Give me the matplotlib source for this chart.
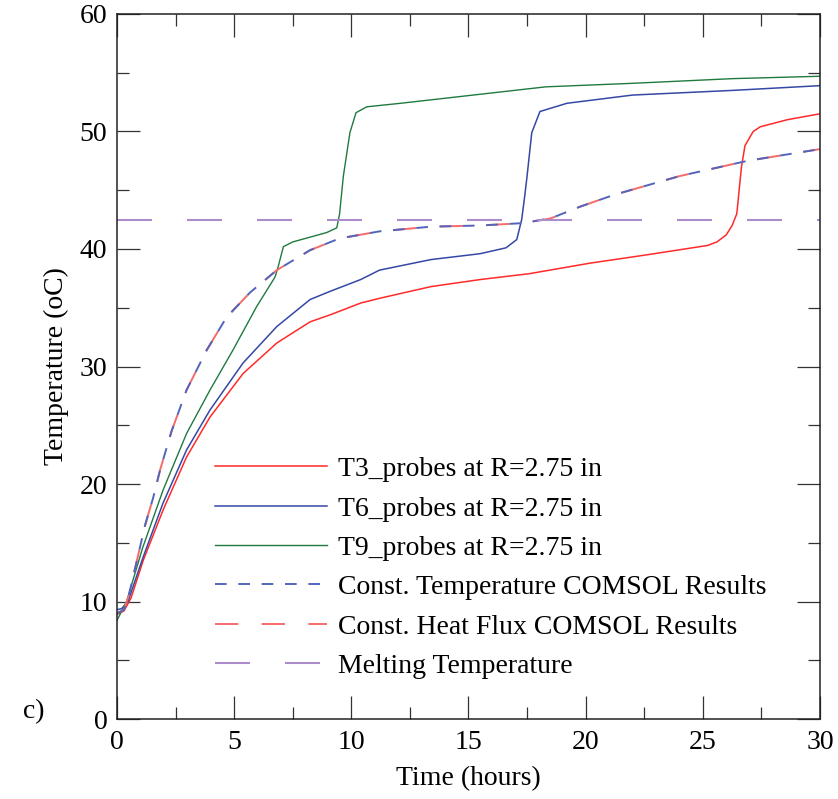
import matplotlib
matplotlib.use("Agg")
import matplotlib.pyplot as plt
from matplotlib.ticker import MultipleLocator

plt.rcParams['font.family'] = ['Liberation Serif', 'DejaVu Serif']
plt.rcParams['lines.scale_dashes'] = False

# ---- data ----
t3_time = [0, 0.3, 0.6, 1.12, 1.97, 2.97, 3.97, 5.38, 6.82, 8.24, 9.1, 10.4, 11.2, 13.4,
           15.5, 17.6, 20.2, 22.6, 25.2, 25.6, 26.0, 26.25, 26.45, 26.55, 26.65, 26.8,
           27.15, 27.45, 28.6, 29.7, 30]
t3_vals = [8.9, 9.2, 10.3, 13.5, 17.8, 22.3, 25.7, 29.4, 32.0, 33.8, 34.4, 35.4, 35.8, 36.8,
           37.4, 37.9, 38.8, 39.5, 40.3, 40.6, 41.2, 42.0, 43.0, 45.0, 47.0, 48.8,
           50.0, 50.4, 51.0, 51.4, 51.5]

t6_time = [0, 0.2, 0.47, 1.12, 1.97, 2.97, 3.97, 5.38, 6.82, 8.24, 9.1, 10.4, 11.2, 13.4,
           15.5, 16.6, 17.06, 17.27, 17.4, 17.5, 17.7, 18.05, 19.2, 22.0, 26.3, 30]
t6_vals = [9.3, 9.4, 10.0, 13.8, 18.4, 22.9, 26.3, 30.3, 33.4, 35.7, 36.4, 37.4, 38.2, 39.1,
           39.6, 40.1, 40.8, 42.5, 44.5, 46.2, 49.9, 51.7, 52.4, 53.1, 53.5, 53.9]

t9_time = [0, 0.41, 1.1, 1.97, 2.97, 3.97, 4.95, 5.96, 6.74, 6.88, 7.1, 7.5, 8.95, 9.38,
           9.5, 9.66, 9.94, 10.2, 10.66, 12.1, 18.3, 22.0, 26.3, 30]
t9_vals = [8.4, 10.0, 14.6, 19.5, 24.3, 28.0, 31.4, 35.1, 37.6, 38.5, 40.2, 40.6, 41.4, 41.8,
           43.0, 46.2, 49.9, 51.6, 52.1, 52.4, 53.8, 54.1, 54.5, 54.7]

comsol_time = [0, 0.3, 0.5, 0.77, 1.2, 1.54, 1.84, 2.33, 2.97, 3.83, 4.68, 5.68, 6.82, 8.24,
               9.5, 11.2, 13.4, 15.5, 17.3, 18.5, 19.76, 21.2, 24.0, 26.9, 30]
comsol_temp_vals = [9.0, 9.3, 10.5, 12.8, 16.5, 18.8, 21.2, 24.5, 28.0, 31.4, 34.2, 36.3, 38.2,
                    39.9, 40.9, 41.5, 41.9, 42.0, 42.2, 42.6, 43.6, 44.6, 46.2, 47.5, 48.5]
comsol_flux_vals = [9.0, 9.3, 10.5, 12.8, 16.5, 18.8, 21.2, 24.5, 28.0, 31.4, 34.2, 36.3, 38.2,
                    39.9, 40.9, 41.5, 41.9, 42.0, 42.2, 42.6, 43.6, 44.6, 46.2, 47.5, 48.5]

melt_time = [0, 30]
melt_vals = [42.5, 42.5]

labels = ["T3_probes at R=2.75 in", "T6_probes at R=2.75 in", "T9_probes at R=2.75 in",
          "Const. Temperature COMSOL Results", "Const. Heat Flux COMSOL Results",
          "Melting Temperature"]

FS = 20

fig = plt.figure(figsize=(8.38, 7.99), dpi=100)
ax = fig.add_axes([0.1396, 0.1001, 0.8389, 0.8824])

h1, = ax.plot(t3_time, t3_vals, color='#ff2a2a', lw=1.1, label=labels[0])
h2, = ax.plot(t6_time, t6_vals, color='#3548a5', lw=1.1, label=labels[1])
h3, = ax.plot(t9_time, t9_vals, color='#1f7a3e', lw=1.0, label=labels[2])
h5, = ax.plot(comsol_time, comsol_flux_vals, color='#f66a6a', lw=1.4,
              ls=(0, (16.8, 16.8)), label=labels[4])
h4, = ax.plot(comsol_time, comsol_temp_vals, color='#5365bb', lw=1.4,
              ls=(0, (8.4, 8.4)), label=labels[3])
h6, = ax.plot(melt_time, melt_vals, color='#ad8ccb', lw=1.5,
              ls=(0, (25.2, 25.2)), label=labels[5])

ax.set_xlim(0, 30)
ax.set_ylim(0, 60)
ax.xaxis.set_major_locator(MultipleLocator(5))
ax.xaxis.set_minor_locator(MultipleLocator(2.5))
ax.yaxis.set_major_locator(MultipleLocator(10))
ax.yaxis.set_minor_locator(MultipleLocator(5))
ax.tick_params(which='both', direction='in', top=True, right=True, width=0.9, colors='#333333',
               labelcolor='black', labelsize=FS)
ax.tick_params(which='major', length=16.5)
ax.tick_params(which='minor', length=8.6)
ax.tick_params(axis='x', pad=8)
ax.tick_params(axis='y', pad=7)
for s in ax.spines.values():
    s.set_linewidth(1.1)
    s.set_color('#222222')

ax.set_xlabel("Time (hours)", fontsize=FS, labelpad=8)
ax.set_ylabel("Temperature (oC)", fontsize=FS, labelpad=8)

ax.legend(handles=[h1, h2, h3, h4, h5, h6], loc='upper left', bbox_to_anchor=(0.139, 0.372),
          frameon=False, fontsize=FS, handlelength=4.03, handletextpad=0.4,
          labelspacing=0.5, borderpad=0, borderaxespad=0)

fig.text(0.027, 0.109, "c)", fontsize=FS, va='center', ha='left')

fig.savefig("out.png", dpi=100)
